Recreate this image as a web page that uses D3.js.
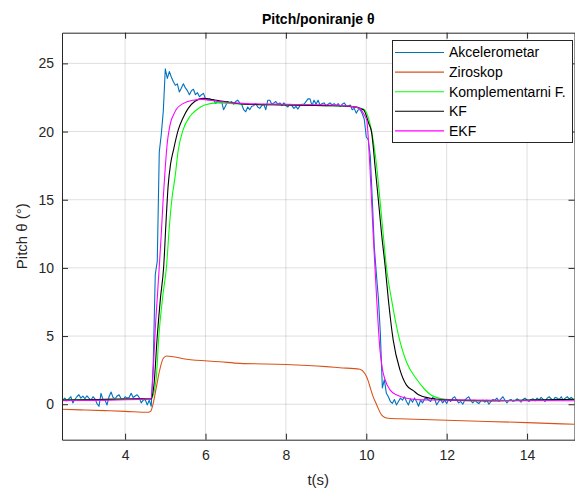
<!DOCTYPE html>
<html lang="en">
<head>
<meta charset="utf-8"/>
<title>Pitch/poniranje</title>
<script src="https://d3js.org/d3.v7.min.js"></script>
<style>
  body { margin: 0; background: #fff; }
  svg { font-family: "Liberation Sans", Arial, sans-serif; }
  .grid line { stroke: #262626; stroke-opacity: 0.15; stroke-width: 1; }
  .axis path, .axis line { stroke: #262626; }
  .axis text { fill: #262626; font-size: 14px; }
  .series { fill: none; stroke-width: 1.1; stroke-linejoin: round; }
</style>
</head>
<body>
<div id="chart"></div>
<script>
// series names / legend
var names = ["Akcelerometar", "Ziroskop", "Komplementarni F.", "KF", "EKF"];
var colors = ["#0072BD", "#D95319", "#00FF00", "#000000", "#FF00FF"];

var xTicks = [4, 6, 8, 10, 12, 14];
var yTicks = [0, 5, 10, 15, 20, 25];

// accelerometer, sampled every 0.05 s starting at 2.45 s (one row = 1 s)
var accStart = 2.45, accStep = 0.05;
var accV = [
  0.30,0.45,0.25,0.40,0.55,0.10,0.35,0.55,0.70,0.45, 0.60,0.40,0.62,0.45,0.30,0.55,0.40,0.05,-0.15,0.80,
  0.35,0.30,-0.05,0.55,0.90,0.50,0.40,0.60,0.70,0.40, 0.35,0.55,0.45,0.50,0.80,0.50,0.60,0.70,0.50,0.10,
  0.30,0.35,-0.05,0.30,-0.15,3.0,9.5,10.5,18.5,19.8, 21.5,24.6,23.9,24.4,24.0,23.65,23.4,23.5,22.9,23.2,
  23.5,23.2,23.0,22.7,23.0,23.1,22.7,22.85,22.55,22.7, 22.8,22.4,22.35,22.4,22.3,22.35,22.05,22.2,22.15,22.2,
  21.6,21.9,22.2,22.1,22.2,22.0,22.2,22.3,22.1,22.0, 21.6,21.45,21.8,21.6,21.85,21.9,22.05,21.8,21.7,21.9,
  22.0,21.6,22.3,22.3,22.0,22.1,22.2,22.0,22.1,21.9, 22.1,21.9,21.8,22.0,21.9,21.7,21.85,21.65,21.9,22.0,
  22.0,22.2,22.4,22.4,21.9,22.3,22.0,22.3,21.95,22.05, 22.1,21.9,22.0,22.1,21.95,22.05,21.9,22.05,21.85,22.0,
  22.1,21.9,21.85,21.95,21.6,21.7,21.35,21.6,21.6,21.3, 20.9,19.6,19.4,18.2,15.0,11.5,9.6,7.8,5.2,1.2,
  1.8,0.8,0.55,0.2,0.07,0.35,-0.05,0.2,0.45,0.3, 0.55,0.2,-0.05,0.4,0.15,0.45,0.2,-0.15,0.3,0.1,
  0.4,0.45,0.3,0.2,0.5,0.4,-0.05,0.2,0.35,0.1, 0.3,0.05,0.35,0.2,0.45,0.55,0.3,0.1,0.2,0.0,
  0.3,0.45,0.55,0.25,0.1,0.3,0.15,0.05,0.25,0.3, 0.15,0.3,0.0,0.2,0.35,0.3,0.45,0.2,0.4,0.55,
  0.3,0.1,0.3,0.35,0.2,0.25,0.4,0.3,0.15,0.35, 0.45,0.3,0.2,0.35,0.4,0.25,0.45,0.3,0.5,0.35,
  0.2,0.45,0.55,0.4,0.3,0.5,0.45,0.35,0.55,0.3, 0.45,0.55,0.4,0.5,0.35
];

// gyroscope
var gyrT = [2.43, 3.0, 3.5, 4.0, 4.57, 4.64, 4.70, 4.78, 4.86, 4.95, 5.03, 5.53, 6.36, 6.86, 8.0, 9.0, 9.34, 9.84, 9.96, 10.05, 10.09, 10.17, 10.26, 10.38, 10.45, 10.55, 11.0, 12.0, 13.0, 14.0, 15.18];
var gyrV = [-0.37, -0.42, -0.47, -0.52, -0.59, -0.5, 0.07, 1.3, 2.5, 3.37, 3.54, 3.3, 3.12, 3.0, 2.92, 2.76, 2.68, 2.57, 2.27, 1.7, 1.3, 0.56, -0.05, -0.78, -0.95, -1.03, -1.08, -1.17, -1.26, -1.35, -1.47];

// complementary filter
var cfT = [2.43, 3.0, 3.6, 4.0, 4.4, 4.62, 4.66, 4.77, 4.84, 4.94, 5.03, 5.10, 5.17, 5.24, 5.32, 5.44, 5.61, 5.78, 5.98, 6.3, 7.0, 8.0, 9.0, 9.6, 9.93, 10.09, 10.26, 10.34, 10.42, 10.5, 10.63, 10.79, 11.0, 11.25, 11.45, 11.6, 11.8, 12.0, 12.5, 13.5, 15.18];
var cfV = [0.3, 0.32, 0.38, 0.4, 0.42, 0.4, 0.45, 1.8, 5.0, 8.0, 10.1, 13.0, 15.2, 16.6, 18.6, 20.1, 21.1, 21.6, 21.95, 22.1, 22.0, 21.95, 21.9, 21.85, 21.65, 20.6, 17.4, 15.0, 12.5, 10.1, 7.65, 5.2, 3.1, 1.85, 1.1, 0.7, 0.45, 0.37, 0.25, 0.25, 0.35];

// Kalman filter
var kfT = [2.43, 3.0, 3.6, 4.0, 4.4, 4.62, 4.65, 4.72, 4.80, 4.88, 4.96, 5.02, 5.07, 5.13, 5.2, 5.32, 5.44, 5.57, 5.73, 5.94, 6.27, 7.0, 8.0, 9.0, 9.6, 9.93, 10.06, 10.13, 10.22, 10.3, 10.38, 10.47, 10.55, 10.67, 10.84, 11.0, 11.17, 11.3, 11.59, 12.0, 13.0, 14.0, 15.18];
var kfV = [0.3, 0.32, 0.36, 0.38, 0.4, 0.38, 0.4, 1.5, 5.0, 7.8, 10.1, 13.5, 16.0, 17.6, 18.6, 20.1, 21.0, 21.7, 22.2, 22.43, 22.3, 22.0, 21.95, 21.9, 21.85, 21.6, 20.6, 20.0, 17.4, 15.0, 12.5, 10.1, 7.65, 4.7, 2.5, 1.4, 1.0, 0.7, 0.44, 0.32, 0.26, 0.3, 0.37];

// extended Kalman filter
var ekfT = [2.43, 3.0, 3.6, 4.0, 4.4, 4.6, 4.64, 4.70, 4.75, 4.80, 4.85, 4.90, 4.95, 5.0, 5.05, 5.1, 5.15, 5.2, 5.28, 5.44, 5.69, 5.9, 6.3, 7.0, 8.0, 9.0, 9.6, 9.84, 9.95, 10.01, 10.09, 10.17, 10.26, 10.34, 10.40, 10.47, 10.59, 10.76, 11.0, 11.4, 12.5, 13.5, 15.18];
var ekfV = [0.26, 0.28, 0.3, 0.33, 0.36, 0.38, 0.35, 2.5, 5.5, 7.8, 10.1, 12.5, 15.2, 17.4, 19.2, 20.2, 20.85, 21.2, 21.65, 22.05, 22.3, 22.36, 22.2, 22.05, 22.0, 21.95, 21.85, 21.7, 21.2, 20.85, 17.4, 12.55, 7.65, 4.0, 2.6, 1.78, 1.05, 0.68, 0.44, 0.32, 0.3, 0.28, 0.26];

var W = 575, H = 488;
var m = {left: 62, right: 574.5, top: 32.7, bottom: 439.7};

var x = d3.scaleLinear().domain([2.43, 15.18]).range([m.left, m.right]);
var y = d3.scaleLinear().domain([-2.6, 27.25]).range([m.bottom, m.top]);

var svg = d3.select("#chart").append("svg")
  .attr("width", W)
  .attr("height", H);

svg.append("defs").append("clipPath").attr("id", "clip")
  .append("rect")
  .attr("x", m.left).attr("y", m.top)
  .attr("width", m.right - m.left).attr("height", m.bottom - m.top);

// grid
var grid = svg.append("g").attr("class", "grid");
grid.selectAll(".gx").data(xTicks).enter().append("line")
  .attr("x1", function(d) { return x(d); }).attr("x2", function(d) { return x(d); })
  .attr("y1", m.top).attr("y2", m.bottom);
grid.selectAll(".gy").data(yTicks).enter().append("line")
  .attr("y1", function(d) { return y(d); }).attr("y2", function(d) { return y(d); })
  .attr("x1", m.left).attr("x2", m.right);

// series
function pairs(ts, vs) { return ts.map(function(t, i) { return [t, vs[i]]; }); }
var accT = accV.map(function(d, i) { return accStart + i * accStep; });
var series = [pairs(accT, accV), pairs(gyrT, gyrV), pairs(cfT, cfV), pairs(kfT, kfV), pairs(ekfT, ekfV)];

var line = d3.line()
  .x(function(d) { return x(d[0]); })
  .y(function(d) { return y(d[1]); });
var smooth = d3.line()
  .curve(d3.curveMonotoneX)
  .x(function(d) { return x(d[0]); })
  .y(function(d) { return y(d[1]); });

var plot = svg.append("g").attr("clip-path", "url(#clip)");
series.forEach(function(s, i) {
  plot.append("path")
    .attr("class", "series")
    .attr("stroke", colors[i])
    .attr("d", i === 0 ? line(s) : smooth(s));
});

// axes (ticks pointing inward, box on)
svg.append("g").attr("class", "axis")
  .attr("transform", "translate(0," + m.bottom + ")")
  .call(d3.axisBottom(x).tickValues(xTicks).tickSizeInner(-6).tickSizeOuter(0).tickPadding(10));
svg.append("g").attr("class", "axis")
  .attr("transform", "translate(0," + m.top + ")")
  .call(d3.axisTop(x).tickValues(xTicks).tickSizeInner(-6).tickSizeOuter(0).tickFormat(""));
svg.append("g").attr("class", "axis")
  .attr("transform", "translate(" + m.left + ",0)")
  .call(d3.axisLeft(y).tickValues(yTicks).tickSizeInner(-6).tickSizeOuter(0).tickPadding(8));
svg.append("g").attr("class", "axis")
  .attr("transform", "translate(" + m.right + ",0)")
  .call(d3.axisRight(y).tickValues(yTicks).tickSizeInner(-6).tickSizeOuter(0).tickFormat(""));

// title and labels
svg.append("text")
  .attr("x", (m.left + m.right) / 2).attr("y", 24)
  .attr("text-anchor", "middle")
  .attr("font-weight", "bold").attr("font-size", 14).attr("fill", "#000")
  .text("Pitch/poniranje θ");
svg.append("text")
  .attr("x", (m.left + m.right) / 2).attr("y", 485)
  .attr("text-anchor", "middle")
  .attr("font-size", 15).attr("fill", "#262626")
  .text("t(s)");
svg.append("text")
  .attr("transform", "translate(27," + (m.top + m.bottom) / 2 + ") rotate(-90)")
  .attr("text-anchor", "middle")
  .attr("font-size", 15).attr("fill", "#262626")
  .text("Pitch θ (°)");

// legend
var lg = svg.append("g");
lg.append("rect")
  .attr("x", 392.5).attr("y", 40.5).attr("width", 180).attr("height", 102)
  .attr("fill", "#fff").attr("stroke", "#262626").attr("stroke-width", 1);
var items = lg.selectAll(".item").data(names).enter().append("g")
  .attr("transform", function(d, i) { return "translate(0," + (52.5 + i * 19.6) + ")"; });
items.append("line")
  .attr("x1", 395).attr("x2", 444)
  .attr("stroke", function(d, i) { return colors[i]; })
  .attr("stroke-width", 1.1);
items.append("text")
  .attr("x", 449).attr("dy", "0.35em")
  .attr("font-size", 14).attr("fill", "#000")
  .text(function(d) { return d; });
</script>
</body>
</html>
